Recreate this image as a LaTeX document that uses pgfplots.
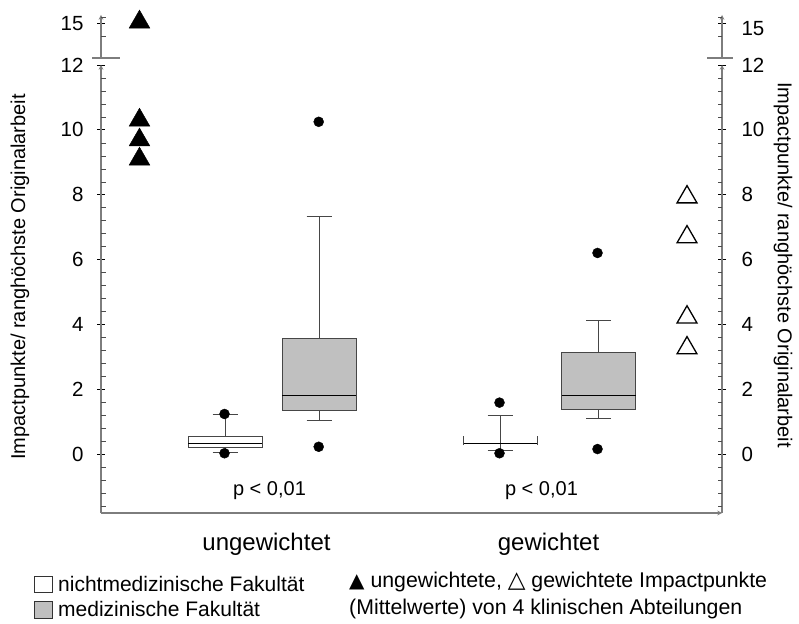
\documentclass[border=0pt]{standalone}
\usepackage{pgfplots}
\pgfplotsset{compat=1.18}
\usepgfplotslibrary{statistics}
\usepackage{fontspec}
\setmainfont{Liberation Sans}
\newfontfamily\dejavu{DejaVu Sans}
\definecolor{medgray}{RGB}{192,192,192}
\definecolor{axgray}{RGB}{125,125,125}
\definecolor{boxedge}{RGB}{70,70,70}
\pgfplotsset{
  base/.style={scale only axis, width=621pt, xmin=1.01, xmax=7.22, clip=false,
    axis line style={-, draw=axgray, line width=1.1pt},
    tick align=outside, major tick length=8pt,
    major tick style={black, line width=0.9pt},
    extra y tick labels={},
    extra y tick style={tick align=inside, major tick length=4.5pt, major tick style={black!70, line width=0.7pt}},
    tick label style={font=\fontsize{20.5}{24}\selectfont},
    /pgf/number format/assume math mode=true,
    xtick=\empty,
  },
  low/.style={base, at={(101pt,110pt)}, anchor=south west, height=448pt,
    ymin=-1.8, ymax=12, ytick={0,2,...,12},
    extra y ticks={-1.6,-1.2,-0.8,-0.4,0.4,0.8,1.2,1.6,2.4,2.8,3.2,3.6,4.4,4.8,5.2,5.6,6.4,6.8,7.2,7.6,8.4,8.8,9.2,9.6,10.4,10.8,11.2,11.6}},
  up/.style={base, at={(101pt,565pt)}, anchor=south west, height=43pt,
    ymin=13.93, ymax=15.26, ytick={15}, extra y ticks={14.6,15.2}},
  bp/.style={boxplot/draw direction=y,
    boxplot/every box/.style={draw=boxedge, line width=1pt},
    boxplot/every whisker/.style={draw=boxedge, line width=0.9pt},
    boxplot/every median/.style={draw=black, line width=1.2pt}},
}
\begin{document}
\begin{tikzpicture}[x=1pt,y=1pt]
\path[use as bounding box] (0,0) rectangle (799,623);

% lower part, left side with data
\begin{axis}[low, axis y line=left, axis x line=bottom,
  xtick={2.665,5.485}, xticklabels={ungewichtet,gewichtet},
  x tick style={draw=none},
  xticklabel style={font=\fontsize{24}{28}\selectfont, yshift=-13pt},
  yticklabel style={xshift=-10pt}]
\addplot[bp, fill=white, boxplot prepared={draw position=2.25, lower whisker=0.07,
  lower quartile=0.23, median=0.335, upper quartile=0.57, upper whisker=1.25,
  box extend=0.74, whisker extend=0.25}] coordinates {};
\addplot[bp, fill=medgray, boxplot prepared={draw position=3.19, lower whisker=1.04,
  lower quartile=1.37, median=1.83, upper quartile=3.58, upper whisker=7.32,
  box extend=0.74, whisker extend=0.25}] coordinates {};
\addplot[bp, fill=white, boxplot prepared={draw position=5.00, lower whisker=0.13,
  lower quartile=0.35, median=0.35, upper quartile=0.35, upper whisker=1.22,
  box extend=0.74, whisker extend=0.25}] coordinates {};
\addplot[boxedge, line width=1pt] coordinates {(4.63,0.29) (4.63,0.57)};
\addplot[boxedge, line width=1pt] coordinates {(5.37,0.29) (5.37,0.57)};
\addplot[bp, fill=medgray, boxplot prepared={draw position=5.985, lower whisker=1.12,
  lower quartile=1.40, median=1.83, upper quartile=3.14, upper whisker=4.12,
  box extend=0.74, whisker extend=0.25}] coordinates {};
% outliers
\addplot[only marks, mark=*, mark size=5pt, black] coordinates {
  (2.245,1.25) (2.245,0.04) (3.187,10.25) (3.187,0.24)
  (4.995,1.60) (4.995,0.04) (5.975,6.21) (5.975,0.17)};
% department means
\addplot[only marks, mark=triangle*, mark size=12pt, black] coordinates {
  (1.395,10.30) (1.395,9.69) (1.395,9.10)};
\addplot[only marks, mark=triangle, mark size=11.5pt, black, line width=1.3pt,
  mark options={fill=white}] coordinates {
  (6.87,7.93) (6.87,6.70) (6.87,4.23) (6.87,3.28)};
\node[font=\fontsize{20}{24}\selectfont] at (axis cs:2.695,-1.1) {p < 0,01};
\node[font=\fontsize{20}{24}\selectfont] at (axis cs:5.415,-1.1) {p < 0,01};
\end{axis}

% lower part, right side
\begin{axis}[low, axis y line=right, axis x line=none, yticklabel style={xshift=12pt}]
\end{axis}

% upper part, left
\begin{axis}[up, axis y line=left, axis x line=none, yticklabel style={xshift=-10pt}]
\addplot[only marks, mark=triangle*, mark size=12pt, black] coordinates {(1.395,15.04)};
\end{axis}
% upper part, right
\begin{axis}[up, axis y line=right, axis x line=none, yticklabel style={xshift=12pt, yshift=-5pt}]
\end{axis}

% axis breaks
\draw[axgray, line width=1.1pt] (92,565) -- (120,565);
\draw[axgray, line width=1.1pt] (707,565) -- (733,565);

% axis titles
\node[rotate=90, font=\fontsize{20}{24}\selectfont] at (20,346) {Impactpunkte/ ranghöchste Originalarbeit};
\node[rotate=-90, font=\fontsize{20}{24}\selectfont] at (783,358) {Impactpunkte/ ranghöchste Originalarbeit};

% legend
\draw[black!80, line width=1pt, fill=white] (34,31) rectangle (52,47);
\node[anchor=west, font=\fontsize{21}{25}\selectfont, inner sep=0pt] at (58,39) {nichtmedizinische Fakultät};
\draw[black!80, line width=1pt, fill=medgray] (34,5) rectangle (52,22);
\node[anchor=west, font=\fontsize{21}{25}\selectfont, inner sep=0pt] at (58,14) {medizinische Fakultät};
\node[anchor=west, font=\fontsize{21.3}{25}\selectfont, inner sep=0pt] at (349,41) {{\dejavu\fontsize{20}{22}\selectfont ▲} ungewichtete, {\dejavu\fontsize{23}{22}\selectfont △} gewichtete Impactpunkte};
\node[anchor=west, font=\fontsize{21.3}{25}\selectfont, inner sep=0pt] at (349,14) {(Mittelwerte) von 4 klinischen Abteilungen};
\end{tikzpicture}
\end{document}
